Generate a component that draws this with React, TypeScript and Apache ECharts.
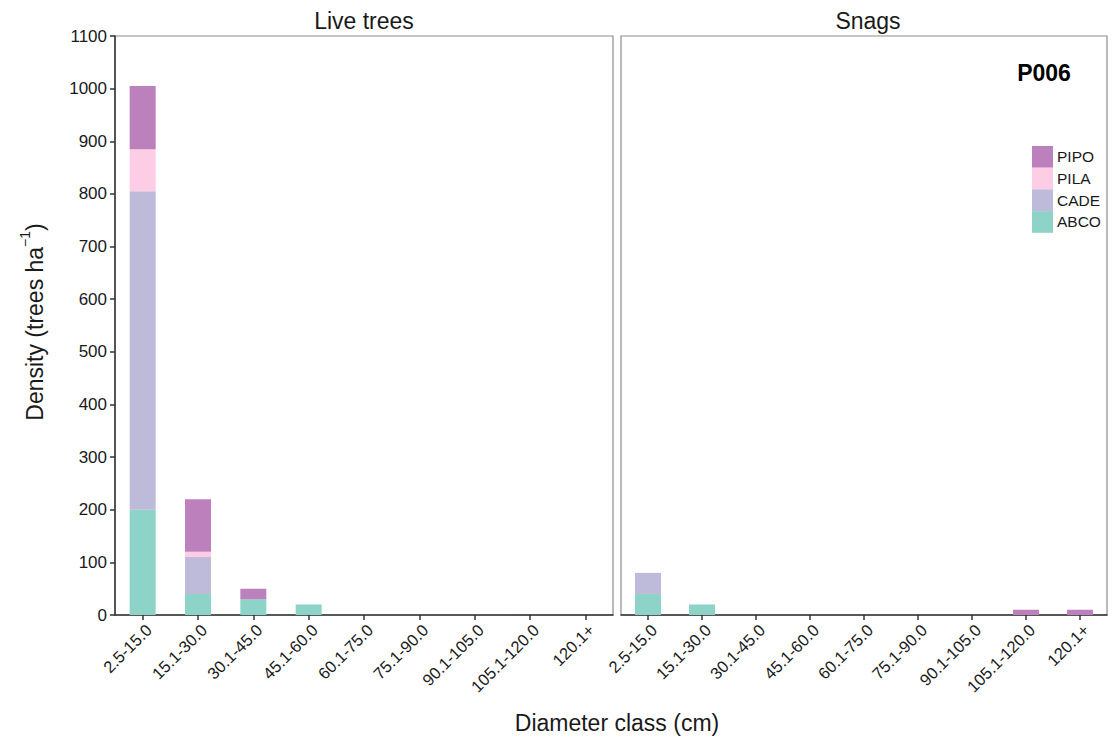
import React, { useEffect, useRef } from "react";
import * as echarts from "echarts";

const classes = [
  "2.5-15.0",
  "15.1-30.0",
  "30.1-45.0",
  "45.1-60.0",
  "60.1-75.0",
  "75.1-90.0",
  "90.1-105.0",
  "105.1-120.0",
  "120.1+",
];

const species = ["ABCO", "CADE", "PILA", "PIPO"];
const speciesColors = ["#8dd3c7", "#bebada", "#fccde5", "#bc80bd"];

// Live trees, trees per hectare by diameter class
const liveABCO = [200, 40, 30, 20, null, null, null, null, null];
const liveCADE = [605, 70, null, null, null, null, null, null, null];
const livePILA = [80, 10, null, null, null, null, null, null, null];
const livePIPO = [120, 100, 20, null, null, null, null, null, null];

// Snags, trees per hectare by diameter class
const snagABCO = [40, 20, null, null, null, null, null, null, null];
const snagCADE = [40, null, null, null, null, null, null, null, null];
const snagPILA = [null, null, null, null, null, null, null, null, null];
const snagPIPO = [null, null, null, null, null, null, null, 10, 10];

const yTicksMax = 1100;
const yTickStep = 100;

const FONT = "Liberation Sans, Arial, sans-serif";
const TEXT = "#1a1a1a";

export default function App() {
  const ref = useRef<HTMLDivElement>(null);

  useEffect(() => {
    const chart = echarts.init(ref.current!, null, { renderer: "svg" });

    const liveData = [liveABCO, liveCADE, livePILA, livePIPO];
    const snagData = [snagABCO, snagCADE, snagPILA, snagPIPO];

    const makeX = (gridIndex: number) => ({
      type: "category" as const,
      gridIndex,
      data: classes,
      boundaryGap: true,
      axisLine: { show: true, lineStyle: { color: "#333", width: 1.5 } },
      axisTick: { show: true, alignWithLabel: true, length: 5, lineStyle: { color: "#333", width: 1.5 } },
      axisLabel: {
        rotate: 45,
        margin: 6,
        fontSize: 16.5,
        color: TEXT,
        fontFamily: FONT,
        interval: 0,
        verticalAlign: "top",
      },
    });

    const makeY = (gridIndex: number, showAxis: boolean) => ({
      type: "value" as const,
      gridIndex,
      min: 0,
      max: yTicksMax,
      interval: yTickStep,
      splitLine: { show: false },
      axisLine: { show: showAxis, lineStyle: { color: "#333", width: 1.5 } },
      axisTick: { show: showAxis, length: 5, lineStyle: { color: "#333", width: 1.5 } },
      axisLabel: {
        show: showAxis,
        fontSize: 17,
        color: TEXT,
        fontFamily: FONT,
        margin: 8,
        formatter: (v: number) => String(v),
      },
    });

    const series: any[] = [];
    species.forEach((name, i) => {
      series.push({
        name,
        type: "bar",
        stack: "live",
        xAxisIndex: 0,
        yAxisIndex: 0,
        barWidth: 26,
        itemStyle: { color: speciesColors[i] },
        data: liveData[i],
      });
    });
    species.forEach((name, i) => {
      series.push({
        name,
        type: "bar",
        stack: "snag",
        xAxisIndex: 1,
        yAxisIndex: 1,
        barWidth: 26,
        itemStyle: { color: speciesColors[i] },
        data: snagData[i],
      });
    });

    chart.setOption({
      animation: false,
      backgroundColor: "#ffffff",
      textStyle: { fontFamily: FONT },
      grid: [
        { left: 115, top: 36, width: 498, height: 579, show: true, borderColor: "#8c8c8c", borderWidth: 1.2 },
        { left: 621, top: 36, width: 486, height: 579, show: true, borderColor: "#8c8c8c", borderWidth: 1.2 },
      ],
      xAxis: [makeX(0), makeX(1)],
      yAxis: [makeY(0, true), makeY(1, false)],
      legend: {
        orient: "vertical",
        left: 1032,
        top: 146,
        padding: 0,
        itemWidth: 21,
        itemHeight: 21.7,
        itemGap: 0,
        icon: "rect",
        data: ["PIPO", "PILA", "CADE", "ABCO"],
        textStyle: { fontSize: 15.5, color: TEXT, fontFamily: FONT, padding: [0, 0, 0, -1] },
        selectedMode: false,
      },
      graphic: [
        {
          type: "text",
          x: 364,
          y: 21,
          style: { text: "Live trees", fontSize: 23, fill: TEXT, fontFamily: FONT, align: "center", verticalAlign: "middle" },
        },
        {
          type: "text",
          x: 868,
          y: 21,
          style: { text: "Snags", fontSize: 23, fill: TEXT, fontFamily: FONT, align: "center", verticalAlign: "middle" },
        },
        {
          type: "text",
          x: 1044,
          y: 73,
          style: { text: "P006", fontSize: 23, fontWeight: "bold", fill: "#000", fontFamily: FONT, align: "center", verticalAlign: "middle" },
        },
        {
          type: "text",
          x: 617,
          y: 723,
          style: { text: "Diameter class (cm)", fontSize: 23, fill: TEXT, fontFamily: FONT, align: "center", verticalAlign: "middle" },
        },
        {
          type: "text",
          x: 32,
          y: 322,
          rotation: Math.PI / 2,
          style: {
            text: "{a|Density (trees ha}{s|−1}{a|)}",
            align: "center",
            verticalAlign: "middle",
            rich: {
              a: { fontSize: 23, fill: TEXT, fontFamily: FONT, lineHeight: 28, verticalAlign: "bottom" },
              s: { fontSize: 14, fill: TEXT, fontFamily: FONT, lineHeight: 28, verticalAlign: "top" },
            },
          },
        },
      ],
      series,
    });

    return () => chart.dispose();
  }, []);

  return (
    <div
      ref={ref}
      style={{ position: "fixed", left: 0, top: 0, width: 1113, height: 744 }}
    />
  );
}
